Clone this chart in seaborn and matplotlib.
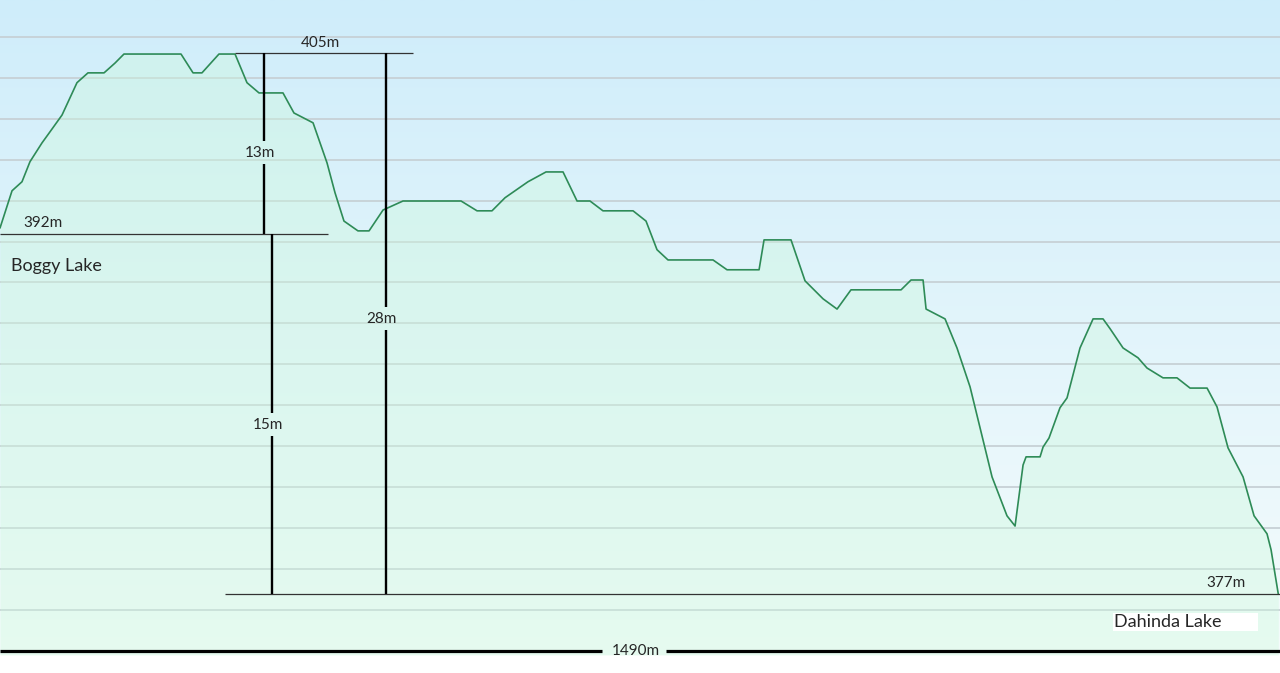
# %%
import numpy as np
import seaborn as sns
import matplotlib.pyplot as plt
from matplotlib.colors import LinearSegmentedColormap

# %% [markdown]
# Profile data: distance along the track (m) and profile height (one unit per gridline)

# %%
distance = [0, 14.0, 25.6, 34.9, 48.9, 58.2, 72.2, 89.6, 102.4, 121.1, 133.9, 144.3,
            210.7, 224.7, 235.1, 254.9, 273.6, 287.5, 301.5, 329.4, 342.2, 364.4,
            380.7, 390.0, 400.4, 416.7, 429.6, 445.9, 469.1, 536.7, 555.3, 572.7,
            587.9, 614.6, 635.6, 655.4, 671.7, 686.8, 701.9, 736.9, 752.0, 764.8,
            777.6, 830.0, 846.3, 883.6, 889.4, 920.8, 937.1, 958.1, 974.4, 990.6,
            1048.9, 1060.5, 1074.5, 1078.0, 1100.1, 1114.0, 1129.2, 1154.8, 1172.2,
            1181.6, 1190.9, 1194.4, 1210.7, 1214.2, 1221.1, 1233.9, 1242.1, 1257.2,
            1272.4, 1284.0, 1292.2, 1307.3, 1324.7, 1335.2, 1353.8, 1370.1, 1385.3,
            1405.1, 1416.7, 1429.5, 1447.0, 1459.8, 1474.9, 1479.6, 1488.0]
height = [9.33, 10.24, 10.46, 10.95, 11.41, 11.68, 12.09, 12.88, 13.12, 13.12, 13.36, 13.58,
          13.58, 13.12, 13.12, 13.58, 13.58, 12.88, 12.63, 12.63, 12.14, 11.90,
          10.92, 10.19, 9.50, 9.26, 9.26, 9.77, 9.99, 9.99, 9.75, 9.75,
          10.07, 10.46, 10.70, 10.70, 9.99, 9.99, 9.75, 9.75, 9.50, 8.80,
          8.55, 8.55, 8.31, 8.31, 9.04, 9.04, 8.04, 7.60, 7.35, 7.82,
          7.82, 8.06, 8.06, 7.35, 7.11, 6.40, 5.45, 3.25, 2.30,
          2.05, 3.54, 3.74, 3.74, 3.98, 4.20, 4.94, 5.18, 6.40,
          7.11, 7.11, 6.87, 6.40, 6.16, 5.91, 5.67, 5.67, 5.42,
          5.42, 4.96, 3.96, 3.25, 2.30, 1.86, 1.47, 0.39]

total_length = 1490
# reference levels for the annotations
level_labels = ['405m', '392m', '377m']
level_values = [13.61, 9.19, 0.39]
climb_labels = ['13m', '15m', '28m']
climb_x = [307.3, 316.6, 449.3]
base_level = -1.0

# %%
sns.set_style('white')
plt.rcParams['font.family'] = ['Lato', 'DejaVu Sans']

fig = plt.figure(figsize=(12.8, 6.73), dpi=100)
ax = fig.add_axes([0, 0, 1, 1])
ymin, ymax = -1.54, 14.9
ax.set_xlim(0, total_length)
ax.set_ylim(ymin, ymax)

# sky gradient behind the profile (white below the distance bar)
sky = LinearSegmentedColormap.from_list('sky', ['#f5fcfc', '#cfedfa'])
grad = np.linspace(0, 1, 256).reshape(-1, 1)
ax.imshow(grad, cmap=sky, origin='lower', aspect='auto',
          extent=(0, total_length, -1.1, ymax), zorder=0)

# gridlines
ax.set_yticks(np.arange(0, 15))
ax.yaxis.grid(True, color='#c7d1d6', lw=1.3)
ax.set_axisbelow(True)

# profile
ax.fill_between(distance, height, -1.1, color='#cdf9dc', alpha=0.38, lw=0, zorder=1)
sns.lineplot(x=distance, y=height, color='#2e8b57', lw=1.2, sort=False,
             estimator=None, ax=ax, zorder=3)

# horizontal level lines
ax.hlines(level_values[0], 273.6, 480.8, color='#333333', lw=0.9, zorder=4)
ax.hlines(level_values[1], 0, 381.8, color='#333333', lw=0.9, zorder=4)
ax.hlines(level_values[2], 261.9, total_length, color='#333333', lw=0.9, zorder=4)
ax.text(372.5, 13.85, level_labels[0], ha='center', va='center', fontsize=11)
ax.text(50, 9.46, level_labels[1], ha='center', va='center', fontsize=11)
ax.text(1427, 0.66, level_labels[2], ha='center', va='center', fontsize=11)

# vertical climb lines, broken around their labels
climb_tops = [level_values[0], level_values[1], level_values[0]]
climb_bottoms = [level_values[1], level_values[2], level_values[2]]
climb_mid = [11.17, 4.52, 7.11]
for lab, x, top, bot, mid in zip(climb_labels, climb_x, climb_tops, climb_bottoms, climb_mid):
    ax.vlines(x, mid + 0.28, top, color='black', lw=1.7, zorder=4)
    ax.vlines(x, bot, mid - 0.28, color='black', lw=1.7, zorder=4)
    ax.text(x - 5, mid, lab, ha='center', va='center', fontsize=11)

# distance bar
ax.hlines(base_level, 0, 700.8, color='black', lw=2.3, zorder=4)
ax.hlines(base_level, 775.3, total_length, color='black', lw=2.3, zorder=4)
ax.text(740.4, base_level, f'{total_length}m', ha='center', va='center', fontsize=11)

# place names
ax.text(12.8, 8.40, 'Boggy Lake', ha='left', va='center', fontsize=13)
ax.axvspan(1295.6, 1464.4, ymin=(-0.52 - ymin) / (ymax - ymin),
           ymax=(-0.08 - ymin) / (ymax - ymin), color='white', lw=0, zorder=2)
ax.text(1359.7, -0.30, 'Dahinda Lake', ha='center', va='center', fontsize=13)

ax.tick_params(length=0, labelleft=False, labelbottom=False)
sns.despine(ax=ax, left=True, bottom=True)
ax.set_xlabel('')
ax.set_ylabel('')

fig.savefig('out.png', dpi=100)
